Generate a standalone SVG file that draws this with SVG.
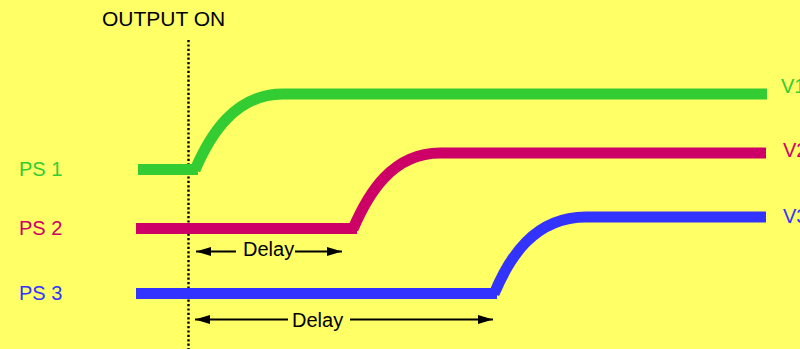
<svg xmlns="http://www.w3.org/2000/svg" width="800" height="349" viewBox="0 0 800 349">
  <defs>
    <marker id="arrowhead" viewBox="0 0 15 9" refX="15" refY="4.5" markerWidth="15" markerHeight="9" markerUnits="userSpaceOnUse" orient="auto-start-reverse">
      <path d="M0,0 L15,4.5 L0,9 Z" fill="#000"/>
    </marker>
    <style>
      text { font-family: "Liberation Sans", Arial, sans-serif; }
      .sig { fill: none; stroke-width: 11; stroke-linecap: butt; stroke-linejoin: miter; }
      .lbl { font-size: 20px; }
      .dim { stroke: #000; stroke-width: 2; fill: none; }
    </style>
  </defs>

  <rect x="0" y="0" width="800" height="349" fill="#FFFF66"/>

  <text x="102" y="26" font-size="21" fill="#000">OUTPUT ON</text>

  <g id="connectors">
    <!-- output-on marker -->
    <line x1="188.5" y1="40" x2="188.5" y2="349" stroke="#000" stroke-width="2.4" stroke-dasharray="2.2 2.2"/>
    <!-- delay dimensions -->
    <line class="dim" x1="196" y1="251.5" x2="236" y2="251.5" marker-start="url(#arrowhead)"/>
    <line class="dim" x1="295" y1="251.5" x2="342" y2="251.5" marker-end="url(#arrowhead)"/>
    <line class="dim" x1="195" y1="319.5" x2="288" y2="319.5" marker-start="url(#arrowhead)"/>
    <line class="dim" x1="350" y1="319.5" x2="493" y2="319.5" marker-end="url(#arrowhead)"/>
  </g>

  <g id="ps1">
    <text class="lbl" x="19" y="176" fill="#33CC33">PS 1</text>
    <path class="sig" stroke="#33CC33" d="M138,169.5 H198 M195,170 C210,135 235,94 283,94 H767"/>
    <text class="lbl" x="781" y="93" fill="#33CC33">V1</text>
  </g>

  <g id="ps2">
    <text class="lbl" x="19" y="235" fill="#CC0066">PS 2</text>
    <path class="sig" stroke="#CC0066" d="M136,228.5 H357 M353,229 C368,194 392,153 440,153 H766"/>
    <text class="lbl" x="783" y="157" fill="#CC0066">V2</text>
  </g>

  <g id="ps3">
    <text class="lbl" x="19" y="300" fill="#3333FF">PS 3</text>
    <path class="sig" stroke="#3333FF" d="M136,293.5 H497 M494,294 C509,258 534,217 586,217 H766"/>
    <text class="lbl" x="783" y="223" fill="#3333FF">V3</text>
  </g>

  <g id="delay-labels">
    <text class="lbl" x="243" y="256" fill="#000">Delay</text>
    <text class="lbl" x="292" y="327" fill="#000">Delay</text>
  </g>
</svg>
